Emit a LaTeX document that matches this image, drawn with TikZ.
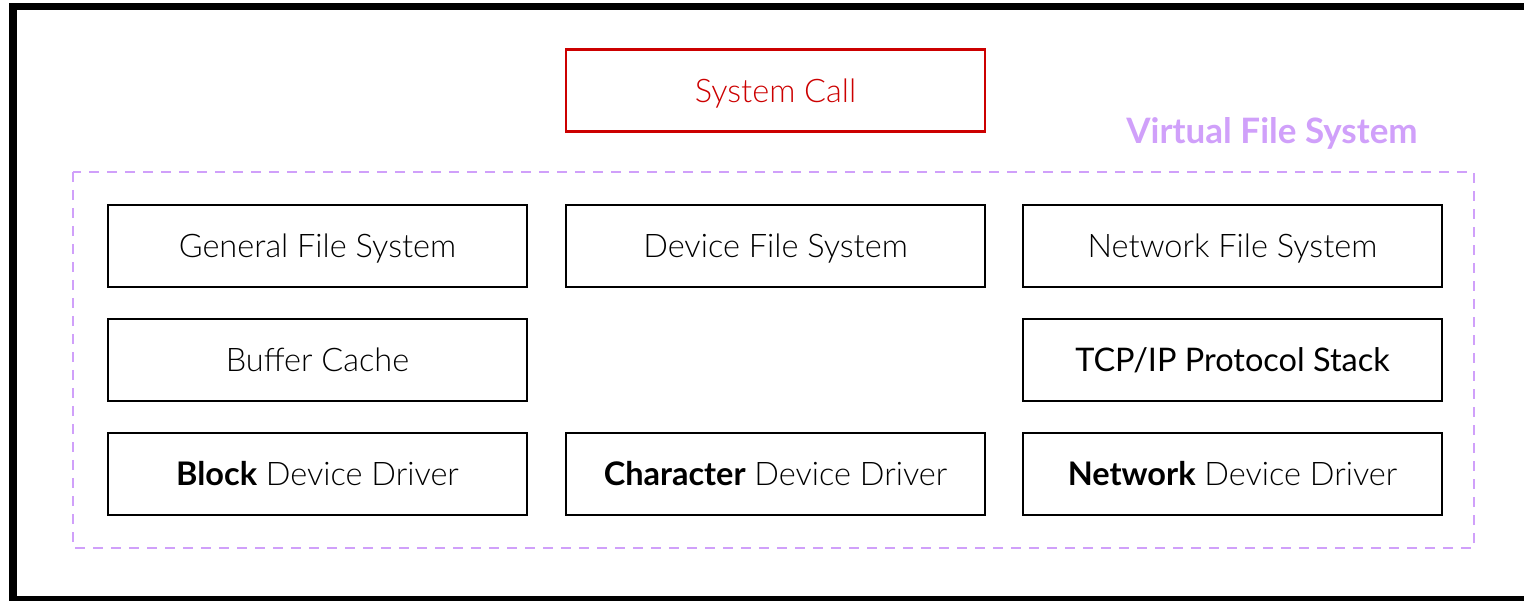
\documentclass[tikz,border=0pt]{standalone}
\usepackage{fontspec}
\setmainfont{Lato}[UprightFont={* Light},BoldFont={* Bold}]
\newfontfamily\regf{Lato}
\begin{document}
\begin{tikzpicture}[x=1pt,y=-1pt,
  box/.style={draw=black,line width=2.5pt,minimum width=419pt,minimum height=82pt,inner sep=0pt,text height=26pt,text depth=2.6pt,font=\fontsize{32.5}{38}\selectfont},
  redbox/.style={box,draw=vfsred,text=vfsred},
  vfs/.style={draw=vfspurple,line width=2.8pt,dash pattern=on 10pt off 8pt}]
\definecolor{vfsred}{RGB}{204,0,0}
\definecolor{vfspurple}{RGB}{208,160,250}
\useasboundingbox (0,0) rectangle (1524,601);
\draw[line width=7.5pt] (1560,6.5) -- (13,6.5) -- (13,599.5) -- (1560,599.5);
\draw[vfs] (73,172) rectangle (1474,548);
\node[text=vfspurple,font=\fontsize{35}{40}\selectfont\bfseries] (vfslabel) at (1272,133) {Virtual File System};
\node[redbox] (syscall) at (775.5,90.5) {System Call};
\node[box] (gfs) at (317.5,246) {General File System};
\node[box] (dfs) at (775.5,246) {Device File System};
\node[box] (nfs) at (1232.5,246) {Network File System};
\node[box] (buf) at (317.5,360) {Buffer Cache};
\node[box] (tcp) at (1232.5,360) {\regf TCP/IP Protocol Stack};
\node[box] (bdd) at (317.5,474) {\textbf{Block} Device Driver};
\node[box] (cdd) at (775.5,474) {\textbf{Character} Device Driver};
\node[box] (ndd) at (1232.5,474) {\textbf{Network} Device Driver};
\end{tikzpicture}
\end{document}
